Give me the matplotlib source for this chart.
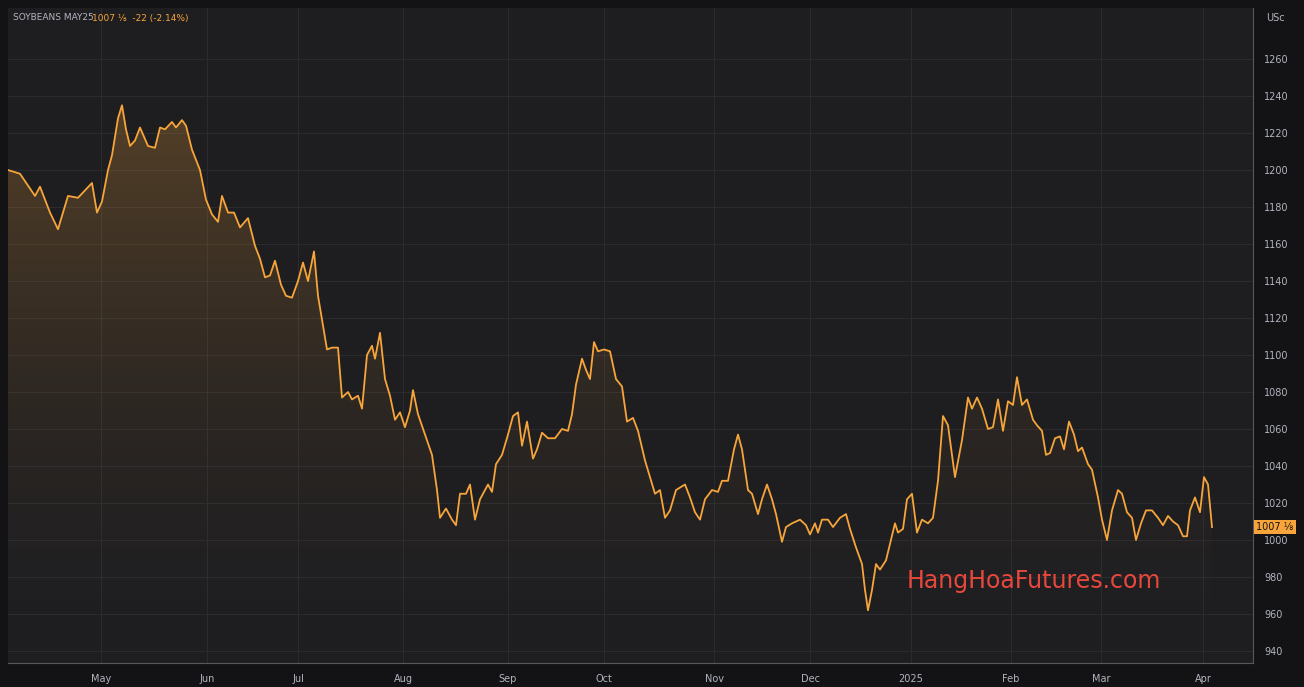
import numpy as np
import matplotlib.pyplot as plt
from matplotlib.patches import Polygon

# position along the session axis (chart units) and price in US cents
pos = [8, 20, 35, 40, 50, 58, 68, 78, 92, 97, 102, 108, 112, 118, 122, 126, 130, 135, 140, 148,
       155, 160, 165, 172, 176, 182, 186, 192, 200, 206, 212, 218, 222, 228, 234, 240, 248, 255, 260, 265,
       270, 275, 281, 286, 292, 298, 303, 308, 314, 318, 322, 327, 332, 338, 342, 348, 352, 358, 362, 367,
       372, 375, 380, 385, 390, 395, 400, 405, 410, 413, 418, 425, 432, 437, 440, 446, 452, 456, 460, 466,
       470, 475, 480, 488, 492, 496, 502, 508, 513, 518, 522, 527, 533, 537, 542, 548, 555, 562, 568, 572,
       576, 582, 586, 590, 594, 598, 604, 610, 616, 622, 627, 633, 638, 645, 650, 655, 660, 665, 670, 676,
       685, 690, 695, 700, 705, 712, 718, 722, 728, 734, 738, 742, 748, 752, 758, 762, 767, 772, 776, 782,
       786, 792, 800, 806, 810, 815, 818, 822, 828, 833, 840, 846, 850, 856, 862, 865, 868, 872, 876, 880,
       886, 890, 895, 898, 903, 907, 912, 917, 922, 928, 933, 938, 943, 948, 955, 962, 968, 972, 977, 982,
       988, 993, 998, 1003, 1008, 1013, 1017, 1022, 1027, 1033, 1037, 1042, 1046, 1050, 1055, 1060, 1064, 1069, 1074, 1078,
       1082, 1088, 1092, 1098, 1102, 1107, 1112, 1118, 1122, 1127, 1132, 1136, 1141, 1146, 1152, 1158, 1163, 1168, 1173, 1178,
       1183, 1187, 1190, 1195, 1200, 1204, 1208, 1212]
price = [1200, 1198, 1186, 1191, 1177, 1168, 1186, 1185, 1193, 1177, 1183, 1200, 1208, 1228, 1235, 1222, 1213, 1216, 1223, 1213,
         1212, 1223, 1222, 1226, 1223, 1227, 1224, 1211, 1200, 1184, 1176, 1172, 1186, 1177, 1177, 1169, 1174, 1159, 1152, 1142,
         1143, 1151, 1138, 1132, 1131, 1140, 1150, 1140, 1156, 1132, 1119, 1103, 1104, 1104, 1077, 1080, 1076, 1078, 1071, 1100,
         1105, 1098, 1112, 1087, 1078, 1065, 1069, 1061, 1070, 1081, 1068, 1057, 1046, 1027, 1012, 1017, 1011, 1008, 1025, 1025,
         1030, 1011, 1022, 1030, 1026, 1041, 1046, 1057, 1067, 1069, 1051, 1064, 1044, 1049, 1058, 1055, 1055, 1060, 1059, 1068,
         1084, 1098, 1092, 1087, 1107, 1102, 1103, 1102, 1087, 1083, 1064, 1066, 1059, 1043, 1034, 1025, 1027, 1012, 1016, 1027,
         1030, 1023, 1015, 1011, 1022, 1027, 1026, 1032, 1032, 1049, 1057, 1049, 1027, 1025, 1014, 1022, 1030, 1022, 1014, 999,
         1007, 1009, 1011, 1008, 1003, 1009, 1004, 1011, 1011, 1007, 1012, 1014, 1006, 996, 987, 973, 962, 973, 987, 984,
         989, 998, 1009, 1004, 1006, 1022, 1025, 1004, 1011, 1009, 1012, 1032, 1067, 1062, 1034, 1054, 1077, 1071, 1077, 1071,
         1060, 1061, 1076, 1059, 1075, 1073, 1088, 1073, 1076, 1065, 1062, 1059, 1046, 1047, 1055, 1056, 1049, 1064, 1057, 1048,
         1050, 1041, 1038, 1023, 1011, 1000, 1016, 1027, 1025, 1015, 1012, 1000, 1009, 1016, 1016, 1012, 1008, 1013, 1010, 1008,
         1002, 1002, 1016, 1023, 1015, 1034, 1030, 1007]

month_labels = ["May", "Jun", "Jul", "Aug", "Sep", "Oct", "Nov", "Dec", "2025", "Feb", "Mar", "Apr"]
month_pos = [101, 207, 298, 403, 508, 604, 714, 810, 911, 1011, 1101, 1203]
y_ticks = list(range(940, 1261, 20))

BG = "#1e1e21"
GRID = "#2b2b2f"
ORANGE = "#f7a53a"
TXT = "#b2b5be"

fig = plt.figure(figsize=(13.04, 6.87), dpi=100, facecolor="#131316")
ax = fig.add_axes([8 / 1304, 1 - 663 / 687, 1245 / 1304, 655 / 687])
ax.set_facecolor(BG)

ymin, ymax = 933.5, 1287.6
ax.set_xlim(8, 1253)
ax.set_ylim(ymin, ymax)

# gradient fill under the line
grad = np.linspace(0, 1, 256).reshape(-1, 1)
rgba = np.zeros((256, 1, 4))
rgba[..., 0], rgba[..., 1], rgba[..., 2] = 0.97, 0.65, 0.23
rgba[..., 3] = 0.25 * grad[::-1] ** 1.6
img = ax.imshow(rgba, extent=[8, 1253, ymin, max(price)], origin="upper",
                aspect="auto", zorder=1)
poly = Polygon(list(zip(pos, price)) + [(pos[-1], ymin), (pos[0], ymin)],
               closed=True, facecolor="none", edgecolor="none")
ax.add_patch(poly)
img.set_clip_path(poly)

ax.plot(pos, price, color=ORANGE, lw=1.3, zorder=3)

ax.set_xticks(month_pos)
ax.set_xticklabels(month_labels)
ax.set_yticks(y_ticks)
ax.yaxis.tick_right()
ax.grid(True, color=GRID, lw=0.8)
ax.set_axisbelow(True)
ax.tick_params(colors=TXT, labelsize=7, length=0, pad=8)
for side in ["top", "left"]:
    ax.spines[side].set_visible(False)
for side in ["right", "bottom"]:
    ax.spines[side].set_color("#55585f")

ax.text(1275, 1282, "USc", color=TXT, fontsize=7, ha="center", va="center", clip_on=False)

# last price tag
ax.text(1275, price[-1], "1007 \u215b", color="#131316", fontsize=7, ha="center", va="center",
        clip_on=False, bbox=dict(boxstyle="square,pad=0.25", facecolor=ORANGE, edgecolor="none"))

fig.text(13 / 1304, 1 - 18 / 687, "SOYBEANS MAY25", color=TXT, fontsize=6.5, va="center")
fig.text(92 / 1304, 1 - 18 / 687, "1007 \u215b  -22 (-2.14%)", color=ORANGE, fontsize=6.5, va="center")

ax.text(1034, 978, "HangHoaFutures.com", color="#e8473c", fontsize=17, ha="center", va="center", zorder=4)

fig.savefig("out.png", dpi=100, facecolor=fig.get_facecolor())
